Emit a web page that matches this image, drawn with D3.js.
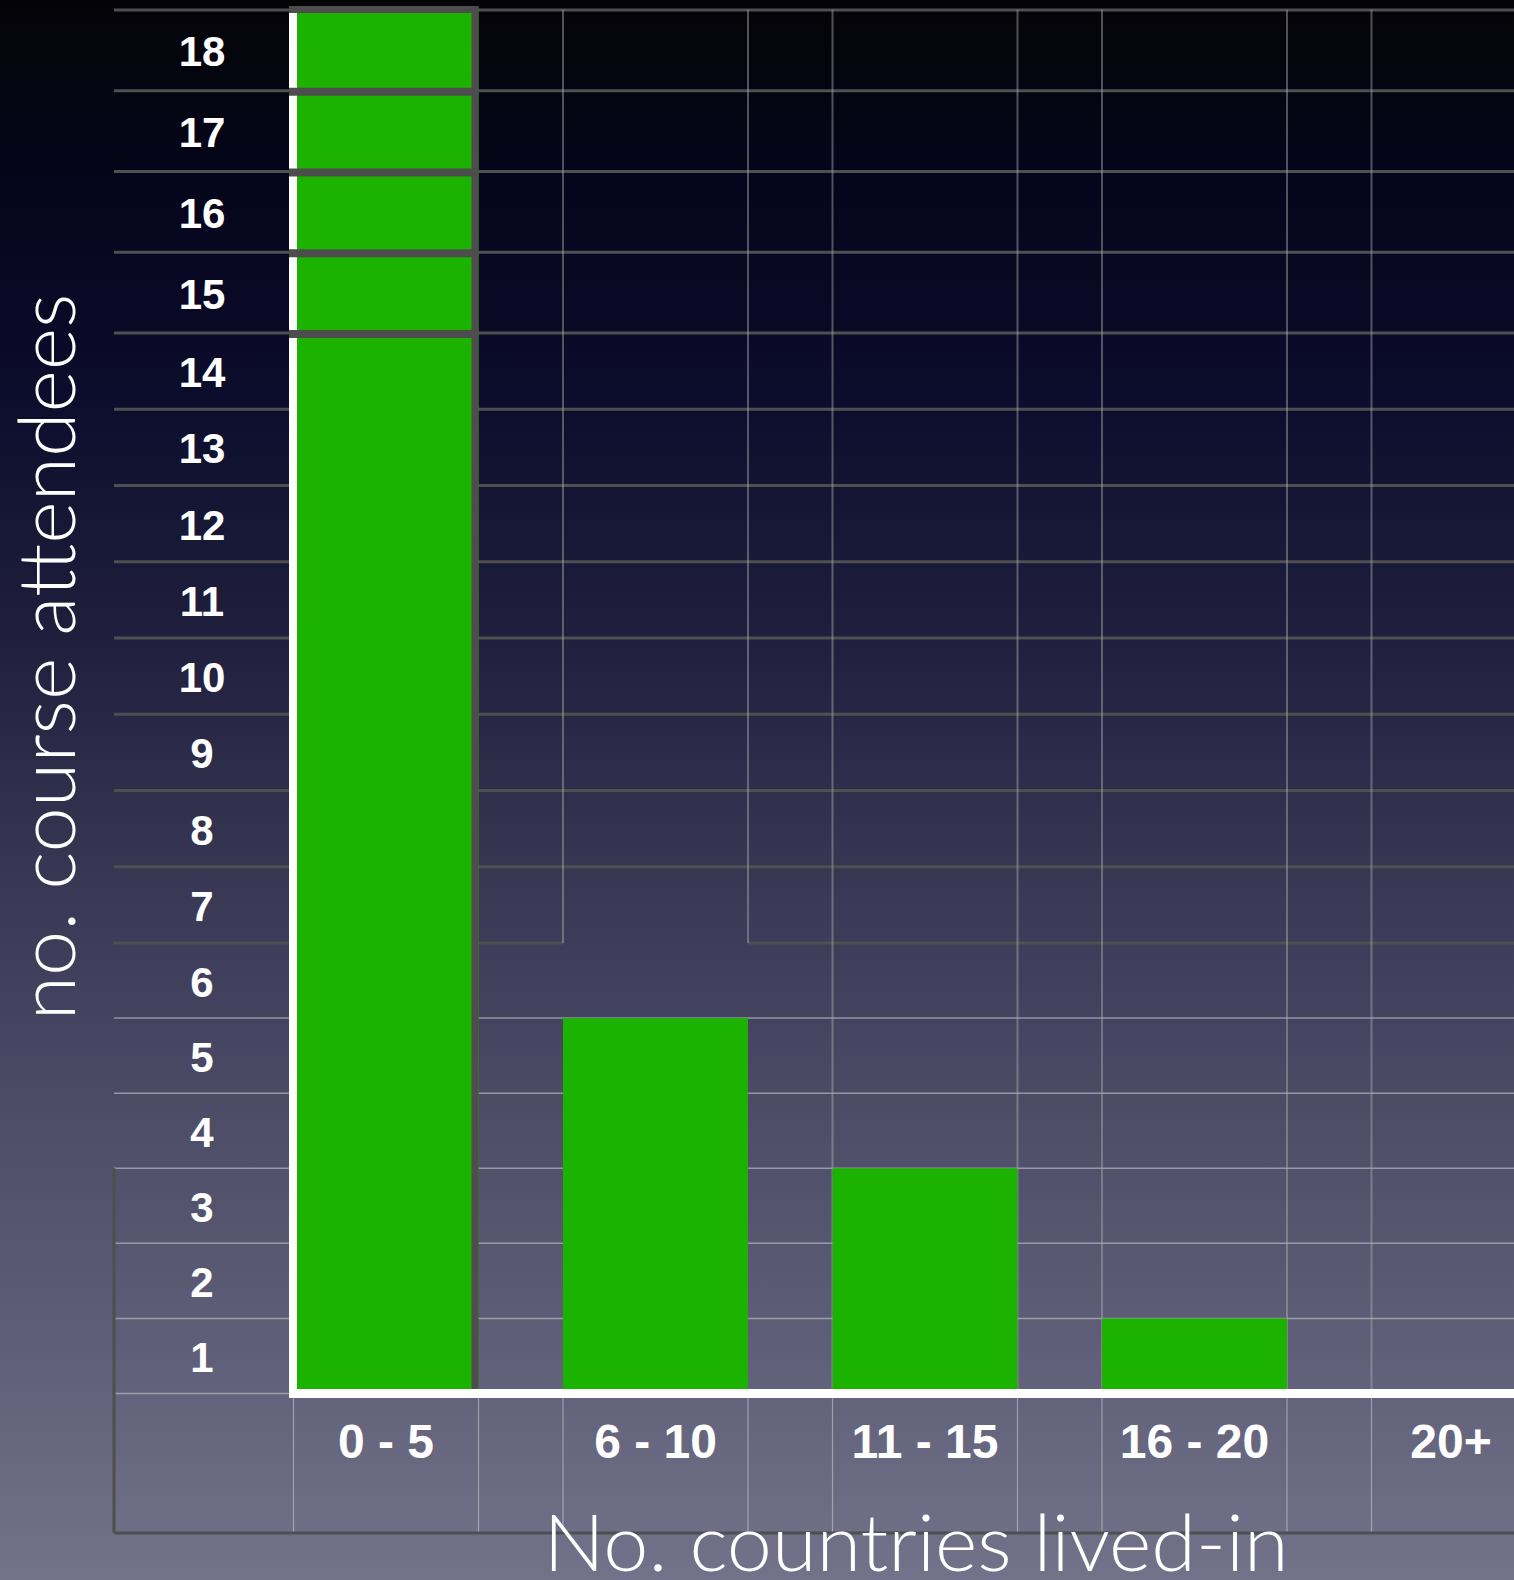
<!DOCTYPE html>
<meta charset="utf-8">
<script src="https://d3js.org/d3.v7.min.js"></script>
<style>
  body { margin: 0; background: #000; }
  text { fill: #fff; font-family: "Liberation Sans", Arial, Helvetica, sans-serif; }
  .tick-label { font-weight: bold; }
  .title { font-family: Lato, "Liberation Sans", sans-serif; font-weight: 300; }
</style>
<div id="chart"></div>
<script>
// data
var categories = ["0 - 5", "6 - 10", "11 - 15", "16 - 20", "20+"];
var attendees = [18, 5, 3, 1, 0];
var yTickValues = [1, 2, 3, 4, 5, 6, 7, 8, 9, 10, 11, 12, 13, 14, 15, 16, 17, 18];
var xTitle = "No. countries lived-in";
var yTitle = "no. course attendees";

var width = 1514, height = 1580;
// outer frame of the table-like grid
var frame = {left: 114, top: 10, bottom: 1533, right: width};

var svg = d3.select("#chart")
    .append("svg")
    .attr("width", width)
    .attr("height", height);

// background gradient (black at top to grey-violet at bottom)
var grad = svg.append("defs").append("linearGradient")
    .attr("id", "bg")
    .attr("x1", 0).attr("y1", 0).attr("x2", 0).attr("y2", 1);
[[0, "#040407"], [0.12, "#05051c"], [0.25, "#0c0c2c"], [0.4, "#1f1f3d"],
 [0.55, "#373653"], [0.7, "#4d4c67"], [0.85, "#5f5e78"], [1, "#73728a"]]
  .forEach(function(s) {
    grad.append("stop").attr("offset", s[0]).attr("stop-color", s[1]);
  });
svg.append("rect").attr("width", width).attr("height", height).attr("fill", "url(#bg)");

// scales
var x = d3.scaleBand()
    .domain(categories)
    .range([293.5, 1556.5])
    .paddingInner(0.3135)
    .paddingOuter(0);
var bw = x.bandwidth();

// rows are a bit taller near the top of the original slide
var y = d3.scaleLinear()
    .domain([0, 6, 14, 18])
    .range([1393.5, 943, 333, 10]);

var axisX = 293; // white y axis line

var darkGrid = "#4f4f4f";
var lightGrid = "rgba(200,200,205,0.6)";
var vGrid = "rgba(175,175,180,0.45)";

// horizontal grid lines
var gridG = svg.append("g");
[0].concat(yTickValues).forEach(function(v) {
  var segs;
  if (v === 0) segs = [[frame.left, axisX]];
  else if (v === 6) segs = [[frame.left, x(categories[1])], [x(categories[1]) + bw, frame.right]];
  else segs = [[frame.left, frame.right]];
  segs.forEach(function(s) {
    gridG.append("line")
      .attr("x1", s[0]).attr("x2", s[1])
      .attr("y1", y(v)).attr("y2", y(v))
      .attr("stroke", v >= 6 ? darkGrid : lightGrid)
      .attr("stroke-width", v >= 6 ? 3 : 1.5);
  });
});

// vertical grid lines at every band edge
categories.forEach(function(c, i) {
  [x(c), x(c) + bw].forEach(function(e, j) {
    // below the x axis, in the label row
    gridG.append("line")
      .attr("x1", e).attr("x2", e)
      .attr("y1", y(0)).attr("y2", frame.bottom)
      .attr("stroke", lightGrid).attr("stroke-width", 1.2);
    if (i === 0) return; // first column handled by axis / bar border
    var bottom = (i === 1) ? y(6) : y(0);
    gridG.append("line")
      .attr("x1", e).attr("x2", e)
      .attr("y1", frame.top).attr("y2", bottom)
      .attr("stroke", vGrid).attr("stroke-width", 2);
  });
});

// left and bottom frame
gridG.append("line")
  .attr("x1", frame.left).attr("x2", frame.left)
  .attr("y1", y(3)).attr("y2", frame.bottom)
  .attr("stroke", darkGrid).attr("stroke-width", 3);
gridG.append("line")
  .attr("x1", frame.left).attr("x2", frame.right)
  .attr("y1", frame.bottom).attr("y2", frame.bottom)
  .attr("stroke", darkGrid).attr("stroke-width", 3);

// bars
svg.selectAll(".bar")
  .data(categories)
  .enter()
  .append("rect")
  .attr("class", "bar")
  .attr("x", function(d) { return x(d); })
  .attr("y", function(d, i) { return y(attendees[i]); })
  .attr("width", bw)
  .attr("height", function(d, i) { return y(0) - y(attendees[i]); })
  .attr("fill", "#1cb200");

// white y axis
svg.append("line")
  .attr("x1", axisX).attr("x2", axisX)
  .attr("y1", y(18) + 3).attr("y2", y(0) + 4.5)
  .attr("stroke", "#fff").attr("stroke-width", 8);

// dark outline on the tall first bar (cells above 14)
var c0 = x(categories[0]);
svg.append("line")
  .attr("x1", c0 + bw - 3.5).attr("x2", c0 + bw - 3.5)
  .attr("y1", y(18) - 4).attr("y2", y(0))
  .attr("stroke", "#4d4d4d").attr("stroke-width", 7);
yTickValues.filter(function(v) { return v >= 14; }).forEach(function(v) {
  svg.append("line")
    .attr("x1", c0 - 4.5).attr("x2", c0 + bw)
    .attr("y1", y(v) - (v === 18 ? 0.5 : -1)).attr("y2", y(v) - (v === 18 ? 0.5 : -1))
    .attr("stroke", "#4d4d4d").attr("stroke-width", v === 18 ? 7 : 8);
});

// white x axis
svg.append("line")
  .attr("x1", axisX - 4).attr("x2", frame.right)
  .attr("y1", y(0)).attr("y2", y(0))
  .attr("stroke", "#fff").attr("stroke-width", 9);

// y tick labels, centred in each row
svg.selectAll(".ylab")
  .data(yTickValues)
  .enter()
  .append("text")
  .attr("class", "tick-label")
  .attr("x", 202)
  .attr("y", function(d) { return (y(d) + y(d - 1)) / 2 + 16; })
  .attr("text-anchor", "middle")
  .style("font-size", "42px")
  .text(function(d) { return d; });

// x tick labels (the last one sits left of its band centre on the slide)
svg.selectAll(".xlab")
  .data(categories)
  .enter()
  .append("text")
  .attr("class", "tick-label")
  .attr("x", function(d) { return Math.min(x(d) + bw / 2, frame.right - 63); })
  .attr("y", 1458)
  .attr("text-anchor", "middle")
  .style("font-size", "48px")
  .text(function(d) { return d; });

// axis titles
svg.append("text")
  .attr("class", "title")
  .attr("transform", "translate(75,657) rotate(-90)")
  .attr("text-anchor", "middle")
  .attr("textLength", 727)
  .attr("lengthAdjust", "spacingAndGlyphs")
  .style("font-size", "78px")
  .text(yTitle);

svg.append("text")
  .attr("class", "title")
  .attr("x", 916)
  .attr("y", 1571)
  .attr("text-anchor", "middle")
  .attr("textLength", 745)
  .attr("lengthAdjust", "spacingAndGlyphs")
  .style("font-size", "78px")
  .text(xTitle);
</script>
